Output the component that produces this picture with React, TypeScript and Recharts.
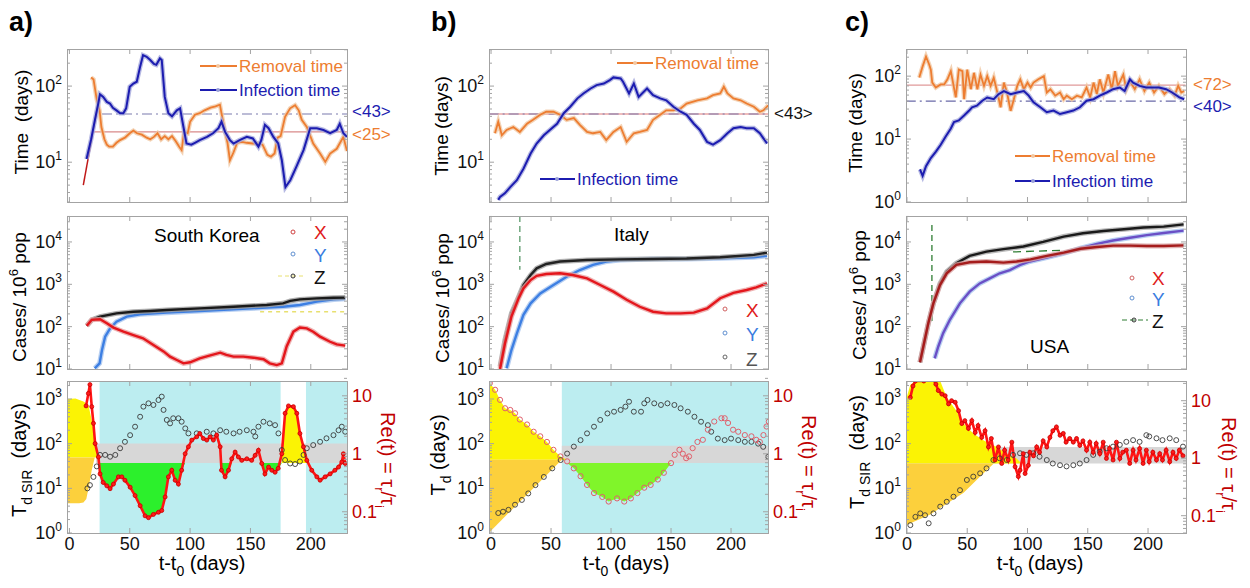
import React from "react";
import { ComposedChart, Line, Area, XAxis, YAxis } from "recharts";

// ---------- ticks ----------
const dayTicks = [0, 50, 100, 150, 200];
const timeTicksAB = [3, 4, 5, 6, 7, 8, 9, 10, 20, 30, 40, 50, 60, 70, 80, 90, 100, 200, 300];
const timeTicksC = [1, 2, 3, 4, 5, 6, 7, 8, 9, 10, 20, 30, 40, 50, 60, 70, 80, 90, 100, 200];
const caseTicks = [
  10, 20, 30, 40, 50, 60, 70, 80, 90, 100, 200, 300, 400, 500, 600, 700, 800, 900,
  1000, 2000, 3000, 4000, 5000, 6000, 7000, 8000, 9000, 10000, 20000, 30000, 40000,
];
const tdTicks = [1, 2, 3, 4, 5, 6, 7, 8, 9, 10, 20, 30, 40, 50, 60, 70, 80, 90, 100, 200, 300, 400, 500, 600, 700, 800, 900, 1000, 2000];
const reTicks = [0.05, 0.06, 0.07, 0.08, 0.09, 0.1, 0.2, 0.3, 0.4, 0.5, 0.6, 0.7, 0.8, 0.9, 1, 2, 3, 4, 5, 6, 7, 8, 9, 10, 20];

// ---------- South Korea ----------
const krRemoval = [
  [18, 130], [20, 122], [22.7, 66], [25, 48], [26.5, 29], [29, 20], [31, 17], [33, 16], [36, 16], [39, 18],
  [42, 19.5], [46, 21], [50, 24], [53, 26], [56, 24], [60, 23], [64, 21], [67, 20], [70, 21.5], [73, 24],
  [76, 20], [79, 22], [82, 20], [85, 22], [88, 19], [91, 16], [93, 14.4], [95, 25], [98, 24], [100, 34],
  [104, 42], [108, 44], [112, 48], [117, 52], [121, 54], [124.7, 57], [126, 44], [129, 25], [131, 18],
  [133, 10.6], [136, 13.5], [139, 18], [143, 18.5], [147, 18], [152, 17.6], [156, 17.6], [160, 17],
  [164, 12.5], [167, 11.8], [170, 13], [172.5, 21], [175, 22], [178.7, 39.5], [182.9, 51], [187, 56],
  [190, 48], [192.5, 36], [196.7, 29], [202, 17.6], [207.7, 13], [212, 10.1], [216, 13], [221.5, 15],
  [227, 21.5], [230, 14],
];
const krInfection = [
  [14.2, 11], [18, 20], [21, 35], [24, 60], [25.3, 78], [28, 72], [31, 62], [33.6, 59], [36, 52], [39, 48],
  [42, 44], [44.7, 44], [47, 51], [50, 98], [53, 108], [55.8, 114], [58.6, 180], [61, 255], [64, 243],
  [67, 220], [70, 195], [72, 190], [75, 231], [76.5, 220], [79, 72], [82, 44], [85, 40], [89, 48],
  [91.7, 51], [94, 32], [97, 17.6], [101, 17], [104, 18], [108, 19.5], [114, 21.5], [119, 24], [123.5, 28],
  [126, 34], [129, 25], [133, 19.5], [136, 17.6], [141, 19.5], [147, 21.5], [152, 20.5], [156.6, 16],
  [159, 19.5], [162, 31], [165, 28], [169, 21.5], [173, 17.6], [176, 10.6], [179, 4.7], [183, 5.8],
  [188, 8.7], [194, 14.4], [199.5, 28], [205, 28], [210.5, 26.5], [216, 24], [221.5, 26.5], [224, 32],
  [227, 24], [230, 21.5],
];
const krFit = [[11.5, 5], [25, 75]];
const krMeanInf = [[27, 43], [230, 43]];
const krMeanRem = [[19, 25], [230, 25]];

const krX = [
  [14.4, 105], [18.5, 145], [25.4, 150], [31, 120], [36.5, 95], [44.8, 76], [53, 63], [61, 53], [69.6, 37],
  [78, 26], [83.4, 19.6], [89, 16.3], [94.5, 13.6], [100, 14.4], [108, 17.9], [116, 20.6], [125, 24.3],
  [130, 21.5], [136, 19.6], [144, 19.6], [152.5, 18.5], [160.8, 17], [166, 13.6], [171.8, 12.4], [176, 13.6],
  [180, 34], [185.6, 76], [191, 95], [196.7, 91], [202, 76], [207.7, 58], [216, 44], [221.5, 38], [228.5, 35.6],
];
const krY = [
  [21, 10.4], [25, 13.6], [27, 28], [29.6, 58], [33.7, 91], [39, 131], [47.5, 173], [58.6, 196], [80.7, 214],
  [108, 234], [136, 257], [163.5, 282], [177, 295], [191, 325], [205, 390], [219, 440], [228.5, 455],
];
const krZ = [
  [14.4, 105], [18.5, 145], [25.4, 173], [39, 206], [53, 225], [67, 234], [80.7, 247], [108, 270], [136, 295],
  [163.5, 325], [177, 355], [183, 405], [191, 440], [205, 465], [219, 480], [228.5, 485],
];
const krZfit = [[158, 225], [230, 225]];

const krTd = [
  [14.9, 10], [17, 11.8], [19.9, 18], [22.7, 31], [25.4, 56], [29.6, 56], [33.7, 51], [38, 56], [42, 79],
  [46, 110], [50.3, 155], [54.4, 240], [58.6, 400], [61.3, 675], [65.5, 800], [69.6, 735], [73.8, 950],
  [76.5, 1130], [78, 570], [80.7, 340], [83.4, 285], [86, 370], [90.3, 370], [93, 310], [96, 220],
  [98.6, 170], [105.5, 170], [113.8, 185], [119.3, 170], [124.9, 200], [130, 185], [136, 170], [141, 185],
  [147, 200], [152.5, 185], [154, 145], [156.6, 240], [160.8, 310], [166, 285], [170.4, 260], [173.2, 170],
  [176, 72], [178.7, 43], [182.9, 36], [187, 35], [191, 40], [194, 56], [196.7, 79], [202, 93], [207.7, 110],
  [213, 132], [218.8, 155], [223, 200], [225.7, 240], [228.5, 185],
];
const krRe = [
  [13.8, 6.7], [15.7, 11], [17, 15.6], [18.5, 6.5], [19.9, 3.35], [21.3, 1.5], [24, 0.88], [25.4, 0.45],
  [28, 0.32], [31, 0.28], [33.7, 0.25], [36.5, 0.3], [40.6, 0.4], [43.4, 0.4], [46, 0.35], [50.3, 0.265],
  [54.4, 0.19], [58.6, 0.127], [62.7, 0.085], [65.5, 0.079], [69.6, 0.09], [73.8, 0.098], [76.5, 0.105],
  [79.3, 0.18], [82, 0.4], [84.8, 0.52], [87.6, 0.35], [90.3, 0.3], [93, 0.52], [95.9, 1.0], [98.6, 1.32],
  [101.4, 1.72], [105.5, 1.96], [108, 2.24], [111, 1.83], [113.8, 1.72], [116.6, 1.96], [119.3, 1.72],
  [122, 2.1], [124.9, 1.32], [126, 0.52], [129, 0.4], [131.8, 0.52], [134.5, 0.82], [137.3, 1.07], [140, 0.88],
  [142.8, 0.77], [147, 0.82], [151, 0.77], [153.9, 0.94], [156.6, 1.15], [159.4, 0.68], [162, 0.45],
  [165, 0.59], [167.7, 0.52], [170.4, 0.48], [173, 0.56], [176, 1.0], [178.7, 5], [181.5, 6.7], [185.6, 6.5],
  [188.4, 5], [191, 2.24], [193.9, 1.32], [196.7, 0.77], [200.8, 0.52], [205, 0.4], [207.7, 0.35],
  [211.9, 0.4], [216, 0.45], [220, 0.52], [223, 0.59], [225.7, 0.72], [227, 1.0], [228.5, 0.68],
];
const krYellowTop = [[-2, 8.8], [5, 9], [11.6, 8], [15.7, 7], [18.5, 3.8], [21.3, 1.7], [23.2, 1.0], [24, 0.86]];
const krOrangeLow = [[-2, 0.14], [8, 0.14], [11.6, 0.145], [14, 0.166], [16, 0.265], [18.5, 0.52], [21, 0.86]];
const krCyan = [[25, 175], [196, 230]];
const krBand = [0.69, 1.5];

// ---------- Italy ----------
const itRemoval = [
  [3.3, 24], [6, 34], [9, 22.6], [13, 26.5], [18.6, 29], [24, 25], [30, 32], [35, 36], [41, 42], [46, 46],
  [52, 46], [57.5, 42], [63, 36], [69, 38], [74, 31], [80, 25], [85, 24], [91, 25], [96, 19.5], [102, 25],
  [108, 29], [113, 18.5], [119, 24], [124, 25], [130, 26.5], [135, 36], [141, 42], [146, 48], [152, 48],
  [158, 51], [163, 59], [172, 65], [180, 69], [185, 76], [191, 80], [194, 98], [197, 80], [202, 69],
  [208, 65], [213, 59], [219, 53.5], [224, 46], [227, 48], [231, 56],
];
const itInfection = [
  [6, 3.2], [7.5, 3.5], [11.5, 3.9], [16, 4.7], [21.5, 5.8], [27, 8.2], [33, 13], [38, 17.6], [44, 22.6],
  [49, 26.5], [55, 32], [60.6, 44], [66, 53.5], [72, 69], [77, 80], [83, 93], [88, 103], [94, 108], [99, 120],
  [102, 130], [108, 126], [110, 114], [115, 80], [119, 108], [123, 72], [130, 93], [135, 76], [141, 69],
  [146, 65], [152, 53.5], [158, 46], [163, 42], [169, 32], [174, 26.5], [180, 18.5], [185, 17], [191, 19.5],
  [197, 24], [202, 28], [208, 29], [213, 28], [219, 28], [224, 24], [230, 17.6],
];
const itMean = [[-2, 43], [231, 43]];

const itX = [
  [7.5, 10], [11.6, 40], [17, 173], [23, 470], [27, 800], [33, 1260], [38, 1580], [46, 1750], [57.5, 1820],
  [68, 1660], [80, 1380], [91, 960], [102, 670], [113, 430], [124, 295], [135, 225], [146, 206], [158, 206],
  [169, 214], [180, 270], [191, 470], [202, 630], [213, 735], [221, 850], [230, 1050],
];
const itY = [
  [13, 10.4], [17, 28], [21.6, 70], [27, 190], [33, 355], [41, 610], [52, 960], [63, 1510], [74, 2170],
  [85, 2880], [96, 3460], [107.5, 3740], [135, 3970], [163, 3970], [191, 4100], [219, 4350], [230, 4700],
];
const itZ = [
  [7.5, 11.4], [11.6, 49], [17, 206], [23, 510], [27, 960], [33, 1660], [38, 2380], [46, 3020], [57.5, 3460],
  [80, 3740], [107.5, 3880], [135, 3970], [163, 4060], [191, 4350], [219, 4950], [230, 5600],
];
const itLockdown = [[24, 41000], [24, 2200]];

const itTd = [
  [6, 2.8], [10, 3.0], [14.5, 3.3], [20, 4.3], [25.7, 5.5], [31, 7.7], [37, 11.8], [44, 18], [51, 28], [58, 43],
  [63.4, 60], [69, 86], [74.6, 120], [80, 170], [85.8, 240], [91, 340], [97, 475], [102.5, 520], [108, 570],
  [112, 675], [115, 870], [119, 520], [125, 520], [127.7, 800], [130.4, 950], [136, 800], [141.6, 735],
  [147, 800], [152.8, 735], [158, 620], [164, 520], [169.5, 400], [175, 310], [180.7, 260], [183.5, 185],
  [189, 130], [194.7, 120], [200, 130], [206, 120], [211.5, 110], [217, 110], [222.6, 100], [226.8, 85], [231, 51],
];
const itRe = [
  [-1, 16.5], [3.4, 12.7], [7.5, 8.5], [11.7, 6.1], [16, 5.7], [20, 5.0], [24, 3.9], [30, 3.2], [35.5, 2.4],
  [41, 2.0], [46.6, 1.6], [52, 1.17], [57.8, 0.9], [63.4, 0.74], [69, 0.56], [74.6, 0.41], [80, 0.29],
  [85.8, 0.21], [92.7, 0.18], [98, 0.15], [105, 0.17], [111, 0.15], [116.5, 0.17], [122, 0.21], [127.7, 0.26],
  [133, 0.29], [139, 0.36], [144, 0.47], [150, 0.69], [153, 0.96], [157, 1.17], [159.8, 1.0], [162.6, 0.84],
  [165, 0.9], [168, 1.25], [172, 1.6], [176.5, 1.74], [180.7, 2.6], [186, 3.6], [192, 4.1], [194.7, 4.1],
  [197.5, 3.4], [201.7, 2.6], [206, 2.4], [211.5, 2.1], [217, 2.0], [221, 1.74], [224, 1.6], [227, 2.1],
  [229.6, 2.95], [231.5, 3.6],
];
const itYellowEdge = [[-2, 18]];
const itOrangeLow = [[-2, 0.043], [59, 0.79]];
const itCyan = [[59, 232]];
const itBand = [0.69, 1.37];

// ---------- USA ----------
const usRemoval = [
  [10.2, 95], [13, 143], [15.8, 205], [18.5, 152], [19.8, 127], [21, 79], [23.9, 66], [28, 74], [30.9, 74],
  [33.6, 89], [36.4, 120], [37.7, 89], [40.5, 46], [43, 127], [46, 120], [47.4, 43], [50, 127], [53, 62],
  [55.6, 113], [58.4, 62], [61, 106], [63.9, 70], [66.6, 100], [69.4, 70], [72, 94], [75, 55], [77.7, 32],
  [80.4, 79], [83, 55], [86, 28], [88.7, 43], [91.5, 70], [94, 89], [97, 62], [100, 79], [102.6, 66],
  [105, 79], [109, 89], [113.6, 100], [116, 55], [119, 62], [123, 49], [127, 55], [130, 43], [132.6, 49],
  [136.8, 43], [141, 49], [145, 46], [149, 66], [152, 46], [154.8, 79], [157.5, 52], [160, 89], [163, 55],
  [167, 106], [170, 62], [172.6, 120], [175, 70], [179.5, 106], [182, 62], [185, 83], [189, 62], [193, 89],
  [197, 58], [201, 79], [205, 55], [209, 70], [213.6, 52], [217.8, 62], [222, 49], [225, 70], [227.6, 55], [230, 58],
];
const usInfection = [
  [10.8, 3.3], [13, 2.6], [15.8, 3.7], [19.8, 5], [24, 6.3], [28, 8.1], [32, 10.9], [36.4, 14.7], [39, 18.7],
  [43, 19.8], [47.4, 23.7], [51.6, 28.4], [54, 32], [58, 34], [62.5, 40.7], [66.6, 45.8], [72, 43], [76, 51.7],
  [80.4, 58], [86, 51.7], [91.5, 55], [97, 58], [101, 49], [105, 38.4], [110.7, 32], [116, 26.7], [121.6, 28.4],
  [127, 25], [132.6, 26.7], [138, 28.4], [143.5, 32], [149, 40.7], [154.8, 43], [160, 49], [165.7, 55],
  [171, 62], [176.6, 66], [180.6, 58], [185, 89], [187.6, 79], [193, 70], [198.5, 66], [204, 66], [209, 66],
  [215, 62], [220, 55], [226, 46], [230, 43],
];
const usMeanRem = [[-1, 72], [231, 72]];
const usMeanInf = [[-1, 40], [231, 40]];

const usX = [
  [10.8, 14.4], [13.6, 34], [17.7, 120], [21.9, 355], [27.4, 960], [33, 1820], [41, 2880], [52, 3320],
  [66, 3460], [80, 3250], [91, 3460], [102.5, 3880], [116, 4700], [130, 5600], [144, 6900], [157.6, 7600],
  [171, 8200], [185, 8200], [199, 8000], [213, 8000], [229.5, 8300],
];
const usY = [
  [23, 17.9], [26, 34], [30, 70], [35.6, 145], [43.9, 355], [52, 670], [60.4, 1050], [68.7, 1380], [77, 1820],
  [85.4, 2170], [94, 2880], [102, 3460], [116, 4300], [130, 5400], [144, 7100], [157.6, 9000], [171, 10800],
  [185, 12600], [199, 14500], [213, 16300], [229.5, 18500],
];
const usZ = [
  [10.8, 14.4], [13.6, 34], [17.7, 120], [21.9, 355], [27.4, 1050], [33, 2000], [41, 3160], [52, 4700],
  [66, 5900], [80, 6750], [96.6, 7800], [113, 10000], [130, 13400], [146, 16000], [163, 18200], [180, 20000],
  [196, 22000], [213, 23000], [229.5, 26000],
];
const usZfit = [[88, 5800], [130, 6400]];
const usLockdown = [[20.7, 25000], [20.7, 122]];

const usTd = [
  [2.8, 1.5], [7, 2.3], [11, 2.75], [15, 2.5], [18, 1.65], [22, 2.75], [27.6, 3.9], [33, 5.0], [38.6, 6.5],
  [44, 9.1], [49.7, 15.4], [55, 18.3], [60.7, 21.7], [66, 28], [71.7, 43], [77, 47], [82.8, 43], [88, 56],
  [93.8, 61], [99, 56], [104.8, 61], [110, 51], [116, 43], [121, 36], [127, 33], [132.4, 31], [138, 33],
  [143.4, 36], [149, 43], [154.5, 56], [160, 66], [165.5, 79], [171, 86], [176.6, 94], [182, 110],
  [187.6, 120], [193, 110], [198.6, 155], [201, 145], [207, 132], [212, 120], [218, 132], [223.4, 120], [229, 86],
];
const usRe = [
  [2.8, 11.4], [5, 18], [7, 22], [14, 22], [19, 30], [24, 19.4], [26, 15], [29, 13], [31.7, 12.2], [34.5, 8.8],
  [37, 10], [40, 9.4], [42.8, 6.7], [45.5, 4], [48, 4.5], [51, 3.3], [53.8, 4.5], [56.6, 2.8], [59, 3.7],
  [62, 2.3], [64.8, 3.0], [67.6, 1.57], [70, 2.2], [73, 0.93], [75.9, 1.57], [78.6, 0.81], [81, 1.38],
  [84, 0.93], [87, 1.9], [89.7, 0.71], [92.4, 0.48], [93.8, 0.62], [96.5, 1.2], [98, 0.54], [100.7, 0.75],
  [102, 1.27], [105, 1.1], [107.6, 1.57], [110, 1.27], [113, 2.0], [116, 1.57], [118.6, 2.3], [121, 3.0],
  [124, 3.5], [127, 2.5], [129.7, 2.7], [132, 1.9], [135, 2.2], [138, 1.9], [140.7, 2.2], [143.4, 1.67],
  [146, 2.0], [149, 1.38], [151.7, 1.9], [154.5, 1.27], [157, 1.8], [160, 1.2], [162.8, 1.9], [165.5, 0.99],
  [168, 1.47], [171, 0.93], [173.8, 1.9], [176.6, 0.99], [179, 1.27], [182, 1.38], [184.8, 0.81],
  [187.6, 1.38], [190, 0.93], [193, 1.47], [195.9, 0.81], [198.6, 1.38], [201, 0.87], [204, 1.27], [207, 0.93],
  [209.7, 1.2], [212, 0.93], [215, 1.38], [218, 0.87], [220.7, 1.27], [223.4, 0.99], [226, 1.38], [229, 1.1],
];
const usYellowTop = [
  [-1, 10], [2.8, 19], [7, 22], [27.6, 22], [33, 11.4], [41, 6.7], [47, 4], [55, 2.7], [63.4, 2.05],
  [74.5, 1.57], [82.8, 1.2], [91, 0.99], [95, 0.81],
];
const usOrangeLow = [[-1, 0.068], [19.3, 0.105], [47, 0.25], [60.7, 0.48], [72, 0.81]];
const usBand = [0.81, 1.57];

// ---------- layout ----------
const AX = "#a3a3a3";
const ORANGE = "#ed7d31";
const BLUE = "#1c1cb0";
const DARKRED = "#c00000";

type Col = { left: number; width: number; xDomain: [number, number] };
type Row = { top: number; height: number };
const COL_A: Col = { left: 67, width: 280, xDomain: [-2, 230] };
const COL_B: Col = { left: 489, width: 279, xDomain: [-1.7, 230.8] };
const COL_C: Col = { left: 906, width: 280, xDomain: [-0.8, 231.5] };
const ROW_TOP: Row = { top: 49, height: 153 };
const ROW_MID: Row = { top: 216, height: 153 };
const ROW_BOT: Row = { top: 381, height: 152 };

const toPts = (a: number[][]) => a.map(([x, y]) => ({ x, y }));
const toRange = (a: number[][], other: number, top: boolean) =>
  a.map(([x, y]) => ({ x, v: top ? [other, y] : [y, other] }));
const blocks = (spans: number[][], lo: number, hi: number) =>
  spans.flatMap(([a, b]) => [{ x: a, v: [lo, hi] }, { x: b, v: [lo, hi] }, { x: b, v: null }]);
const below = (re: number[][], from: number, to: number, lim: number) =>
  re.filter(([x]) => x >= from && x <= to).map(([x, r]) => ({ x, v: [Math.min(r, lim), lim] }));
const above = (re: number[][], from: number, to: number, lim: number) =>
  re.filter(([x]) => x >= from && x <= to).map(([x, r]) => ({ x, v: [lim, Math.max(r, lim)] }));

const isMajor = (v: number) => {
  const e = Math.log10(v);
  return Math.abs(e - Math.round(e)) < 1e-6;
};

const leftTick = (mirrorW: number) => (p: any) => {
  const v = p.payload.value;
  const major = isMajor(v);
  const len = major ? 5 : 3;
  return (
    <g>
      <line x1={p.x} x2={p.x + len} y1={p.y} y2={p.y} stroke={AX} />
      {mirrorW > 0 && <line x1={p.x + mirrorW} x2={p.x + mirrorW - len} y1={p.y} y2={p.y} stroke={AX} />}
      {major && (
        <text x={p.x - 5} y={p.y + 6} textAnchor="end" fontSize={18} fill="#111">
          10<tspan dy={-8} fontSize={12}>{Math.round(Math.log10(v))}</tspan>
        </text>
      )}
    </g>
  );
};

const reTick = (p: any) => {
  const v = p.payload.value;
  const major = isMajor(v);
  const len = major ? 5 : 3;
  return (
    <g>
      <line x1={p.x} x2={p.x - len} y1={p.y} y2={p.y} stroke={AX} />
      {major && (
        <text x={p.x + 5} y={p.y + 6} fontSize={18} fill={DARKRED}>
          {String(v)}
        </text>
      )}
    </g>
  );
};

const dayTick = (plotH: number, labels: boolean) => (p: any) => (
  <g>
    <line x1={p.x} x2={p.x} y1={p.y} y2={p.y - 5} stroke={AX} />
    <line x1={p.x} x2={p.x} y1={p.y - plotH} y2={p.y - plotH + 5} stroke={AX} />
    {labels && (
      <text x={p.x} y={p.y + 17} textAnchor="middle" fontSize={18} fill="#111">
        {p.payload.value}
      </text>
    )}
  </g>
);

function Box(props: { col: Col; row: Row; right: boolean; children: React.ReactNode }) {
  const { col, row, right } = props;
  return (
    <div style={{ position: "absolute", left: col.left - 60, top: row.top - 10 }}>
      <ComposedChart
        width={col.width + 120}
        height={row.height + 50}
        margin={{ top: 10, right: right ? 0 : 60, bottom: 0, left: 0 }}
      >
        {props.children}
      </ComposedChart>
    </div>
  );
}

const xAxisFor = (col: Col, row: Row, labels: boolean) => (
  <XAxis
    type="number"
    dataKey="x"
    domain={col.xDomain}
    allowDataOverflow
    ticks={dayTicks}
    interval={0}
    height={40}
    axisLine={false}
    tickLine={false}
    tickSize={0}
    tickMargin={0}
    tick={dayTick(row.height, labels)}
  />
);

const yAxisFor = (domain: number[], ticks: number[], mirrorW: number, id?: string) => (
  <YAxis
    yAxisId={id ?? 0}
    type="number"
    scale="log"
    domain={domain}
    allowDataOverflow
    ticks={ticks}
    interval={0}
    width={60}
    axisLine={false}
    tickLine={false}
    tickSize={0}
    tickMargin={0}
    tick={leftTick(mirrorW)}
  />
);

type Ref = { pts: number[][]; color: string; dash?: string };

// a series drawn as a light, wide halo (the dense markers) under a solid line
const haloLine = (pts: number[][], color: string, halo: string, width: number, key: string) => [
  <Line key={key + "h"} data={toPts(pts)} dataKey="y" stroke={halo} strokeOpacity={0.8}
    strokeWidth={width + 2.6} dot={false} activeDot={false} isAnimationActive={false} />,
  <Line key={key} data={toPts(pts)} dataKey="y" stroke={color} strokeWidth={width}
    dot={false} activeDot={false} isAnimationActive={false} />,
];

function TimePanel(props: {
  col: Col; domain: number[]; ticks: number[]; removal: number[][]; infection: number[][]; refs: Ref[]; fit?: number[][];
}) {
  const { col, domain, ticks, removal, infection, refs, fit } = props;
  return (
    <Box col={col} row={ROW_TOP} right={false}>
      {xAxisFor(col, ROW_TOP, false)}
      {yAxisFor(domain, ticks, col.width)}
      {refs.map((r, i) => (
        <Line key={i} data={toPts(r.pts)} dataKey="y" stroke={r.color} strokeDasharray={r.dash} strokeWidth={1.2}
          dot={false} activeDot={false} isAnimationActive={false} />
      ))}
      {fit && (
        <Line data={toPts(fit)} dataKey="y" stroke="#c01818" strokeWidth={1.5} dot={false} activeDot={false} isAnimationActive={false} />
      )}
      {haloLine(removal, ORANGE, "#f0c8a4", 1.8, "rem")}
      {haloLine(infection, BLUE, "#a4a8dc", 2, "inf")}
    </Box>
  );
}

function CasesPanel(props: {
  col: Col; x: number[][]; y: number[][]; z: number[][]; colors: string[]; halos: string[]; extra: Ref[];
}) {
  const { col, x, y, z, colors, halos, extra } = props;
  return (
    <Box col={col} row={ROW_MID} right={false}>
      {xAxisFor(col, ROW_MID, false)}
      {yAxisFor([10, 41000], caseTicks, col.width)}
      {extra.map((r, i) => (
        <Line key={i} data={toPts(r.pts)} dataKey="y" stroke={r.color} strokeDasharray={r.dash} strokeWidth={1.3}
          dot={false} activeDot={false} isAnimationActive={false} />
      ))}
      {haloLine(y, colors[1], halos[1], 2.4, "y")}
      {haloLine(z, colors[2], halos[2], 2.4, "z")}
      {haloLine(x, colors[0], halos[0], 2.4, "x")}
    </Box>
  );
}

type Fill = { data: any[]; color: string };

function TdPanel(props: {
  col: Col; reDomain: number[]; fills: Fill[]; td: number[][]; re: number[][]; reStyle: "line" | "circles";
}) {
  const { col, reDomain, fills, td, re, reStyle } = props;
  return (
    <Box col={col} row={ROW_BOT} right={true}>
      {xAxisFor(col, ROW_BOT, true)}
      {yAxisFor([1, 2530], tdTicks, 0, "td")}
      <YAxis yAxisId="re" orientation="right" type="number" scale="log" domain={reDomain} allowDataOverflow
        ticks={reTicks} interval={0} width={60} axisLine={false} tickLine={false} tickSize={0} tickMargin={0} tick={reTick} />
      {fills.map((f, i) => (
        <Area key={i} yAxisId="re" data={f.data} dataKey="v" type="linear" fill={f.color} fillOpacity={1}
          stroke="none" dot={false} activeDot={false} isAnimationActive={false} />
      ))}
      <Line yAxisId="td" data={toPts(td)} dataKey="y" stroke="none"
        dot={{ r: 2.5, fill: "none", stroke: "#3a3a3a", strokeWidth: 0.9 }} activeDot={false} isAnimationActive={false} />
      {reStyle === "line" ? (
        <Line yAxisId="re" data={toPts(re)} dataKey="y" stroke="#ff1414" strokeWidth={2.6}
          dot={{ r: 2, fill: "#ff1a1a", stroke: "#c80000", strokeWidth: 0.8 }} activeDot={false} isAnimationActive={false} />
      ) : (
        <Line yAxisId="re" data={toPts(re)} dataKey="y" stroke="none"
          dot={{ r: 2.6, fill: "none", stroke: "#e0606c", strokeWidth: 1 }} activeDot={false} isAnimationActive={false} />
      )}
    </Box>
  );
}

const YELLOW = "#fbf304";
const GOLD = "#fcd03c";
const CYAN = "#bcedf0";
const GRAY = "#d7d7d7";

function Overlay() {
  const cols = [COL_A, COL_B, COL_C];
  const rows = [ROW_TOP, ROW_MID, ROW_BOT];
  const sub = (t: string, fs: number) => <tspan dy={6} fontSize={fs}>{t}</tspan>;
  return (
    <svg width={1250} height={588} style={{ position: "absolute", left: 0, top: 0, pointerEvents: "none" }}>
      {cols.map((c, i) =>
        rows.map((r, j) => (
          <rect key={`${i}-${j}`} x={c.left + 0.5} y={r.top + 0.5} width={c.width} height={r.height} fill="none" stroke={AX} />
        ))
      )}
      <text x={9} y={31} fontSize={27} fontWeight="bold">a)</text>
      <text x={431} y={31} fontSize={27} fontWeight="bold">b)</text>
      <text x={845} y={31} fontSize={27} fontWeight="bold">c)</text>

      {/* top row */}
      <text transform="translate(28,122) rotate(-90)" textAnchor="middle" fontSize={19}>Time{"\u00a0 "}(days)</text>
      <text transform="translate(448,126) rotate(-90)" textAnchor="middle" fontSize={19}>Time (days)</text>
      <text transform="translate(862,123) rotate(-90)" textAnchor="middle" fontSize={19}>Time (days)</text>

      <line x1={200} x2={237} y1={66} y2={66} stroke={ORANGE} strokeWidth={2} />
      <circle cx={218} cy={66} r={2} fill="#f3c8a2" />
      <text x={239} y={72} fontSize={17} fill={ORANGE}>Removal time</text>
      <line x1={200} x2={237} y1={90} y2={90} stroke={BLUE} strokeWidth={2} />
      <circle cx={218} cy={90} r={2} fill="#9aa0d8" />
      <text x={239} y={96} fontSize={17} fill={BLUE}>Infection time</text>
      <text x={352} y={117} fontSize={17} fill={BLUE}>&lt;43&gt;</text>
      <text x={352} y={140} fontSize={17} fill={ORANGE}>&lt;25&gt;</text>

      <line x1={617} x2={653} y1={63} y2={63} stroke={ORANGE} strokeWidth={2} />
      <circle cx={635} cy={63} r={2} fill="#f3c8a2" />
      <text x={655} y={69} fontSize={17} fill={ORANGE}>Removal time</text>
      <line x1={540} x2={575} y1={179} y2={179} stroke={BLUE} strokeWidth={2} />
      <circle cx={557} cy={179} r={2} fill="#9aa0d8" />
      <text x={577} y={185} fontSize={17} fill={BLUE}>Infection time</text>
      <text x={774} y={119} fontSize={17} fill="#111">&lt;43&gt;</text>

      <text x={1193} y={90} fontSize={17} fill={ORANGE}>&lt;72&gt;</text>
      <text x={1193} y={112} fontSize={17} fill={BLUE}>&lt;40&gt;</text>
      <line x1={1015} x2={1050} y1={156} y2={156} stroke={ORANGE} strokeWidth={2} />
      <circle cx={1033} cy={156} r={2} fill="#f3c8a2" />
      <text x={1052} y={162} fontSize={17} fill={ORANGE}>Removal time</text>
      <line x1={1015} x2={1050} y1={181} y2={181} stroke={BLUE} strokeWidth={2} />
      <circle cx={1033} cy={181} r={2} fill="#9aa0d8" />
      <text x={1052} y={187} fontSize={17} fill={BLUE}>Infection time</text>

      {/* middle row */}
      {[[26, 297], [449, 298], [866, 295]].map(([x, y], i) => (
        <text key={i} transform={`translate(${x},${y}) rotate(-90)`} textAnchor="middle" fontSize={19}>
          Cases/ 10<tspan dy={-8} fontSize={13}>6</tspan><tspan dy={8}> pop</tspan>
        </text>
      ))}
      <text x={154} y={242} fontSize={19}>South Korea</text>
      <circle cx={293} cy={232} r={2} fill="none" stroke="#d04040" />
      <text x={314} y={239} fontSize={19} fill="#e01b1b">X</text>
      <circle cx={293} cy={254} r={2} fill="none" stroke="#6090d0" />
      <text x={314} y={262} fontSize={19} fill="#3a7de0">Y</text>
      <line x1={278} x2={305} y1={276} y2={276} stroke="#e8e070" strokeDasharray="4 3" />
      <circle cx={293} cy={276} r={2} fill="none" stroke="#333" />
      <text x={314} y={284} fontSize={19} fill="#111">Z</text>

      <text x={614} y={241} fontSize={19}>Italy</text>
      <circle cx={725} cy={309} r={2} fill="none" stroke="#d06060" />
      <text x={746} y={317} fontSize={19} fill="#e01b1b">X</text>
      <circle cx={725} cy={333} r={2} fill="none" stroke="#6090d0" />
      <text x={746} y={341} fontSize={19} fill="#3a7de0">Y</text>
      <circle cx={725} cy={357} r={2} fill="none" stroke="#666" />
      <text x={746} y={366} fontSize={19} fill="#555">Z</text>

      <text x={1030} y={353} fontSize={19}>USA</text>
      <circle cx={1132} cy={278} r={2} fill="none" stroke="#d06060" />
      <text x={1152} y={285} fontSize={19} fill="#e01b1b">X</text>
      <circle cx={1132} cy={298} r={2} fill="none" stroke="#6090d0" />
      <text x={1152} y={306} fontSize={19} fill="#3a7de0">Y</text>
      <line x1={1122} x2={1148} y1={320} y2={320} stroke="#2e7d32" strokeDasharray="5 3" />
      <circle cx={1134} cy={320} r={2} fill="none" stroke="#333" />
      <text x={1152} y={328} fontSize={19} fill="#111">Z</text>

      {/* bottom row */}
      <text transform="translate(26,460) rotate(-90)" textAnchor="middle" fontSize={20}>
        T<tspan dy={6} fontSize={14}>d SIR</tspan><tspan dy={-6}>{"\u00a0 "}(days)</tspan>
      </text>
      <text transform="translate(445,455) rotate(-90)" textAnchor="middle" fontSize={20}>
        T<tspan dy={6} fontSize={14}>d</tspan><tspan dy={-6}> (days)</tspan>
      </text>
      <text transform="translate(864,452) rotate(-90)" textAnchor="middle" fontSize={20}>
        T<tspan dy={6} fontSize={14}>d SIR</tspan><tspan dy={-6}>{"\u00a0 "}(days)</tspan>
      </text>
      {[[381, 460], [802, 463], [1222, 465]].map(([x, y], i) => (
        <text key={i} transform={`translate(${x},${y}) rotate(90)`} textAnchor="middle" fontSize={20} fill={DARKRED}>
          Re(t) = τ{sub("r", 13)}<tspan dy={-6}>/τ</tspan>{sub("i", 13)}
        </text>
      ))}
      {[202, 626, 1040].map((x, i) => (
        <text key={i} x={x} y={570} textAnchor="middle" fontSize={20}>
          t-t<tspan dy={6} fontSize={14}>0</tspan><tspan dy={-6}> (days)</tspan>
        </text>
      ))}
    </svg>
  );
}

export default function App() {
  return (
    <div
      style={{
        position: "absolute", left: 0, top: 0, width: 1250, height: 588, background: "#fff", overflow: "hidden",
        fontFamily: "'Liberation Sans', Arial, sans-serif",
      }}
    >
      <TimePanel col={COL_A} domain={[3, 307]} ticks={timeTicksAB} removal={krRemoval} infection={krInfection}
        refs={[{ pts: krMeanInf, color: "#7a7aae", dash: "10 4 2 4" }, { pts: krMeanRem, color: "#d98a8a" }]} fit={krFit} />
      <TimePanel col={COL_B} domain={[3, 307]} ticks={timeTicksAB} removal={itRemoval} infection={itInfection}
        refs={[{ pts: itMean, color: "#e07a7a" }, { pts: itMean, color: "#7a7aae", dash: "10 4 2 4" }]} />
      <TimePanel col={COL_C} domain={[1, 270]} ticks={timeTicksC} removal={usRemoval} infection={usInfection}
        refs={[{ pts: usMeanRem, color: "#e09a9a" }, { pts: usMeanInf, color: "#6a6aa8", dash: "10 4 2 4" }]} />

      <CasesPanel col={COL_A} x={krX} y={krY} z={krZ} colors={["#e4161c", "#3d7fe3", "#1a1a1a"]}
        halos={["#eaa0a0", "#a8c4ee", "#9a9a9a"]}
        extra={[{ pts: krZfit, color: "#e8e070", dash: "4 4" }]} />
      <CasesPanel col={COL_B} x={itX} y={itY} z={itZ} colors={["#e4161c", "#3d7fe3", "#222"]}
        halos={["#eaa0a0", "#a8c4ee", "#a0a0a0"]}
        extra={[{ pts: itLockdown, color: "#5a9a6a", dash: "6 4" }]} />
      <CasesPanel col={COL_C} x={usX} y={usY} z={usZ} colors={["#a51c1c", "#6a4fc6", "#1a1a1a"]}
        halos={["#d8a0a0", "#a8c4ee", "#a8a8a8"]}
        extra={[{ pts: usLockdown, color: "#2e7d32", dash: "6 4" }, { pts: usZfit, color: "#2e7d32", dash: "8 5" }]} />

      <TdPanel col={COL_A} reDomain={[0.043, 18]} td={krTd} re={krRe} reStyle="line"
        fills={[
          { data: blocks(krCyan, 0.043, 18), color: CYAN },
          { data: blocks([[22, 230]], krBand[0], krBand[1]), color: GRAY },
          { data: toRange(krYellowTop, 0.86, true), color: YELLOW },
          { data: toRange(krOrangeLow, 0.86, false), color: GOLD },
          { data: below(krRe, 24, 176, krBand[0]), color: "#2cf02c" },
          { data: above(krRe, 176, 197, krBand[0]), color: YELLOW },
        ]} />
      <TdPanel col={COL_B} reDomain={[0.043, 18]} td={itTd} re={itRe} reStyle="circles"
        fills={[
          { data: blocks(itCyan, 0.043, 18), color: CYAN },
          { data: blocks([[59, 232]], itBand[0], itBand[1]), color: GRAY },
          { data: [...toRange(itYellowEdge, 0.79, true), ...above(itRe, -2, 63.4, 0.79)], color: YELLOW },
          { data: toRange(itOrangeLow, 0.79, false), color: GOLD },
          { data: below(itRe, 57, 156, itBand[0]), color: "#80f52a" },
        ]} />
      <TdPanel col={COL_C} reDomain={[0.05, 22]} td={usTd} re={usRe} reStyle="line"
        fills={[
          { data: blocks([[-1, 232]], usBand[0], usBand[1]), color: GRAY },
          { data: toRange(usYellowTop, usBand[0], true), color: YELLOW },
          { data: toRange(usOrangeLow, usBand[0], false), color: GOLD },
        ]} />

      <Overlay />
    </div>
  );
}
